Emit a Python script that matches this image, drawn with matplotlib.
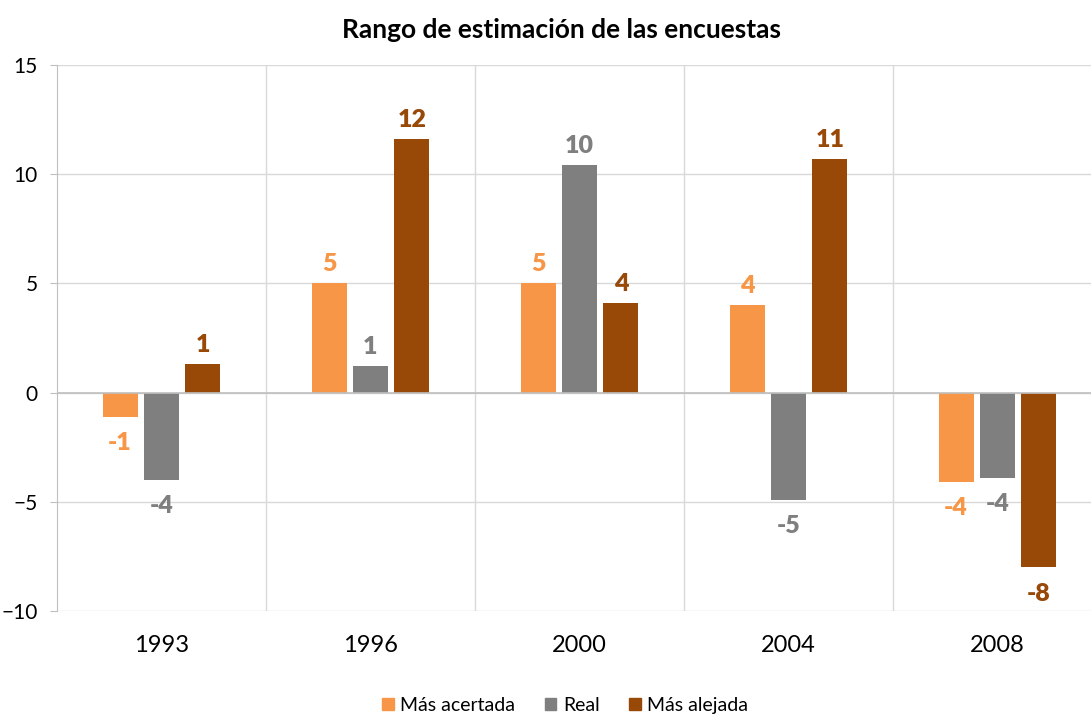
import numpy as np
import matplotlib.pyplot as plt
from matplotlib.patches import Patch

plt.rcParams['font.family'] = ['Lato', 'DejaVu Sans']

# Datos
anios = ['1993', '1996', '2000', '2004', '2008']
series = ['Más acertada', 'Real', 'Más alejada']
mas_acertada = [-1.1, 5.0, 5.0, 4.0, -4.1]
real = [-4.0, 1.2, 10.4, -4.9, -3.9]
mas_alejada = [1.3, 11.6, 4.1, 10.7, -8.0]
colores = ['#F79646', '#7F7F7F', '#984807']

W, H = 1091, 718
fig = plt.figure(figsize=(W / 100, H / 100), dpi=100)
ax = fig.add_axes([57 / W, (H - 611) / H, 1045 / W, 546 / H])

x = np.arange(len(anios))
ancho = 0.168
paso = 0.198

for i, (valores, color) in enumerate(zip([mas_acertada, real, mas_alejada], colores)):
    pos = x + (i - 1) * paso
    ax.bar(pos, valores, width=ancho, color=color, linewidth=0, zorder=3)
    for px, v in zip(pos, valores):
        if v >= 0:
            ax.annotate(f"{v:.0f}", (px, v), xytext=(0, 6), textcoords='offset points',
                        ha='center', va='bottom', fontsize=18, fontweight='heavy', color=color)
        else:
            ax.annotate(f"{v:.0f}", (px, v), xytext=(0, -11), textcoords='offset points',
                        ha='center', va='top', fontsize=18, fontweight='heavy', color=color)

ax.set_xlim(-0.5, len(anios) - 0.5)
ax.set_ylim(-10, 15)
ax.set_yticks([-10, -5, 0, 5, 10, 15])
ax.set_xticks(x)
ax.set_xticklabels(anios)
ax.set_xticks(x[:-1] + 0.5, minor=True)

# Rejilla
ax.grid(axis='y', color='#D9D9D9', linewidth=1, zorder=0)
ax.grid(axis='x', which='minor', color='#D9D9D9', linewidth=1, zorder=0)
ax.axhline(0, color='#BFBFBF', linewidth=1.2, zorder=4)

for s in ['top', 'right', 'bottom']:
    ax.spines[s].set_visible(False)
ax.spines['left'].set_color('#BFBFBF')
ax.tick_params(axis='y', length=5, color='#BFBFBF', pad=9, labelsize=15, labelcolor='#000000')
ax.tick_params(axis='x', which='both', length=0, pad=17, labelsize=17)

fig.text(562 / W, 1 - 30 / H, 'Rango de estimación de las encuestas',
         ha='center', va='center', fontsize=19, fontweight='bold')

handles = [Patch(color=c, label=s) for c, s in zip(colores, series)]
fig.legend(handles=handles, loc='lower center', bbox_to_anchor=(0.518, -0.019), ncol=3,
           frameon=False, fontsize=14, handlelength=0.6, handleheight=0.6,
           handletextpad=0.35, columnspacing=1.5)

fig.savefig('out.png', dpi=100)
